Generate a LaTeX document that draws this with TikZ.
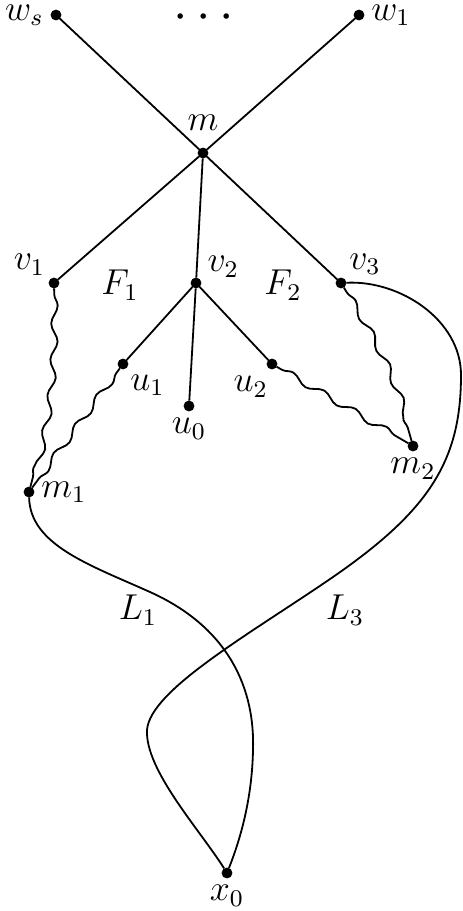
\documentclass[tikz,border=0pt]{standalone}
\usepackage{amsmath,amssymb}
\usetikzlibrary{decorations.pathmorphing}
\tikzset{
  vtx/.style={
    inner sep = 0.037cm,
    shape = circle,
    draw,
    fill
  },
  wavy/.style={
    decorate,
    decoration={snake, amplitude=1.1pt, segment length=12pt,
      pre length=2pt, post length=2pt}
  },
  every label/.style={
    font=\large,
    inner sep=0.5pt
  },
  every node/.style={
    font=\large
  }
}

\begin{document}
\begin{tikzpicture}[x=0.3333pt,y=-0.3333pt,semithick,label distance=1.5pt]
\useasboundingbox (0,0) rectangle (462,911);
\node[vtx, label=left:$w_s$] (ws) at (56,15) {};
\node[vtx, label=right:$w_1$] (w1) at (359,15) {};
\node[inner sep=0pt] (dots) at (208,18) {\LARGE$\cdots$};
\node[vtx, label={[label distance=5pt]above:$m$}] (m) at (203,153) {};
\node[vtx, label={[label distance=1pt]140:$v_1$}] (v1) at (54,283) {};
\node[vtx, label=20:$v_2$] (v2) at (196,283) {};
\node[vtx, label={[label distance=1pt]45:$v_3$}] (v3) at (341,283) {};
\node[vtx, label=-60:$u_1$] (u1) at (123,364) {};
\node[vtx, label=below:$u_0$] (u0) at (189,406) {};
\node[vtx, label=-100:$u_2$] (u2) at (272,364) {};
\node[vtx, label=below:$m_2$] (m2) at (413,446) {};
\node[vtx, label=right:$m_1$] (m1) at (29,492) {};
\node[vtx, label=below:$x_0$] (x0) at (227,873) {};
\node (F1) at (120,285) {$F_1$};
\node (F2) at (283,285) {$F_2$};
\node (L1) at (138,610) {$L_1$};
\node (L3) at (345,610) {$L_3$};
\foreach \a/\b in {ws/m, w1/m, m/v1, m/v2, m/v3, v2/u1, v2/u0, v2/u2}
  \draw (\a) -- (\b);
\draw[wavy] (v1) to[bend left=8] (m1);
\draw[wavy] (u1) -- (m1);
\draw[wavy] (v3) to[bend left=8] (m2);
\draw[wavy] (u2) -- (m2);
\draw (m1) .. controls (30,545) and (90,565) .. (150,592)
  .. controls (230,628) and (255,690) .. (253,750)
  .. controls (252,800) and (240,840) .. (x0);
\draw (v3) .. controls (400,280) and (461,320) .. (461,375)
  .. controls (461,460) and (430,510) .. (333,577)
  .. controls (250,634) and (150,690) .. (147,730)
  .. controls (145,770) and (200,830) .. (x0);
\end{tikzpicture}
\end{document}
